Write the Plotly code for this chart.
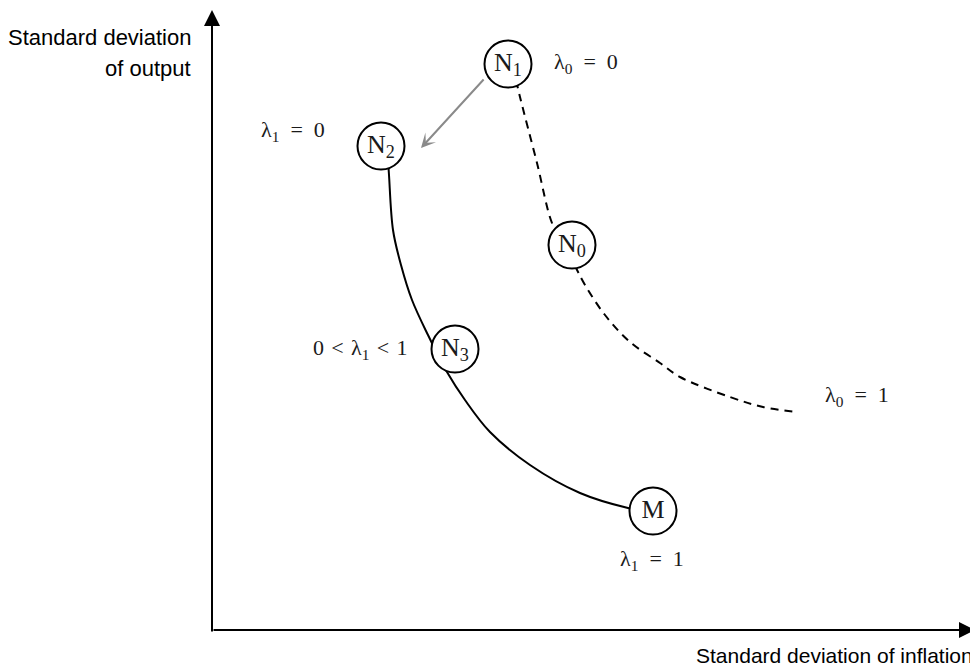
"""
Схема: стандартное отклонение выпуска vs стандартное отклонение инфляции
"""
import plotly.graph_objects as go

# Единицы: условные (1 ед. = 100 px), начало координат в углу осей.
# Страница сдвигает график на 8 px (отступ body), поэтому диапазоны смещены.
X_RANGE = [-2.04, 7.74]
Y_RANGE = [-0.44, 6.22]

# Узлы (кружки с подписями)
NODE_LABELS = ["N<sub>1</sub>", "N<sub>2</sub>", "N<sub>0</sub>", "N<sub>3</sub>", "M"]
NODE_X = [2.96, 1.69, 3.60, 2.43, 4.41]
NODE_Y = [5.66, 4.84, 3.85, 2.81, 1.19]

# Сплошная кривая N2 -> N3 -> M
FRONTIER_X = [1.76, 1.77, 1.81, 1.89, 2.00, 2.16, 2.35, 2.53, 2.78, 3.18, 3.68, 4.16, 4.28]
FRONTIER_Y = [4.70, 4.55, 4.00, 3.65, 3.30, 2.95, 2.58, 2.30, 1.98, 1.65, 1.37, 1.22, 1.20]

# Пунктирная кривая N1 -> N0 -> λ0 = 1
DASHED_X = [3.04, 3.08, 3.25, 3.40, 3.52, 3.64, 3.73, 3.93, 4.18, 4.48, 4.68, 5.18, 5.51, 5.85]
DASHED_Y = [5.50, 5.33, 4.67, 4.07, 3.85, 3.62, 3.45, 3.15, 2.88, 2.67, 2.53, 2.33, 2.23, 2.18]

# Серая стрелка N1 -> N2
SHIFT_FROM = (2.73, 5.52)
SHIFT_TO = (2.09, 4.82)

# Подписи λ: текст, x, y, привязка по x
SP = "\u2004"  # чуть шире обычного пробела
LAMBDA_TEXT = ["λ<sub>1</sub>  =  0", "λ<sub>0</sub>  =  0",
               f"0{SP}<{SP}λ<sub>1</sub>{SP}<{SP}1",
               "λ<sub>0</sub>  =  1", "λ<sub>1</sub>  =  1"]
LAMBDA_X = [1.15, 3.40, 1.98, 6.11, 4.40]
LAMBDA_Y = [4.99, 5.67, 2.81, 2.34, 0.70]
LAMBDA_ANCHOR = ["right", "left", "right", "left", "center"]

SERIF = "Liberation Serif, Times New Roman, serif"
SANS = "Liberation Sans, Arial, sans-serif"
INK = "#1a1a1a"

fig = go.Figure()

fig.add_trace(go.Scatter(
    x=DASHED_X, y=DASHED_Y, mode="lines", line_shape="spline",
    line=dict(color="black", width=2, dash="8px,6px"), hoverinfo="skip",
))
fig.add_trace(go.Scatter(
    x=FRONTIER_X, y=FRONTIER_Y, mode="lines", line_shape="spline",
    line=dict(color="black", width=2), hoverinfo="skip",
))
fig.add_trace(go.Scatter(
    x=NODE_X, y=NODE_Y, mode="markers+text", text=NODE_LABELS,
    textposition="middle center",
    textfont=dict(family=SERIF, size=26, color=INK),
    marker=dict(size=47, color="white", line=dict(color="black", width=2)),
    hoverinfo="skip",
))

annotations = []
# Оси со стрелками
annotations.append(dict(x=0, y=6.20, ax=0, ay=-0.03, xref="x", yref="y", axref="x", ayref="y",
                        text="", showarrow=True, arrowhead=2, arrowsize=1.6, arrowwidth=2,
                        arrowcolor="black"))
annotations.append(dict(x=7.63, y=0, ax=0, ay=0, xref="x", yref="y", axref="x", ayref="y",
                        text="", showarrow=True, arrowhead=2, arrowsize=1.6, arrowwidth=2,
                        arrowcolor="black"))
# Сдвиг N1 -> N2
annotations.append(dict(x=SHIFT_TO[0], y=SHIFT_TO[1], ax=SHIFT_FROM[0], ay=SHIFT_FROM[1],
                        xref="x", yref="y", axref="x", ayref="y", text="", showarrow=True,
                        arrowhead=3, arrowsize=1.2, arrowwidth=2, arrowcolor="#8a8a8a"))
# Подписи λ
for t, x, y, anc in zip(LAMBDA_TEXT, LAMBDA_X, LAMBDA_Y, LAMBDA_ANCHOR):
    annotations.append(dict(x=x, y=y, xref="x", yref="y", text=t, showarrow=False,
                            xanchor=anc, yanchor="middle",
                            font=dict(family=SERIF, size=22, color=INK)))
# Названия осей
annotations.append(dict(x=-0.19, y=5.93, xref="x", yref="y", text="Standard deviation",
                        showarrow=False, xanchor="right", yanchor="middle",
                        font=dict(family=SANS, size=22, color="black")))
annotations.append(dict(x=-0.19, y=5.62, xref="x", yref="y", text="of output",
                        showarrow=False, xanchor="right", yanchor="middle",
                        font=dict(family=SANS, size=22, color="black")))
annotations.append(dict(x=7.63, y=-0.25, xref="x", yref="y", text="Standard deviation of inflation",
                        showarrow=False, xanchor="right", yanchor="middle",
                        font=dict(family=SANS, size=21, color="black")))

fig.update_layout(
    width=978, height=666,
    margin=dict(l=0, r=0, t=0, b=0),
    paper_bgcolor="white", plot_bgcolor="white",
    showlegend=False,
    xaxis=dict(range=X_RANGE, visible=False, fixedrange=True),
    yaxis=dict(range=Y_RANGE, visible=False, fixedrange=True),
    annotations=annotations,
)

fig.write_html("out.html")
